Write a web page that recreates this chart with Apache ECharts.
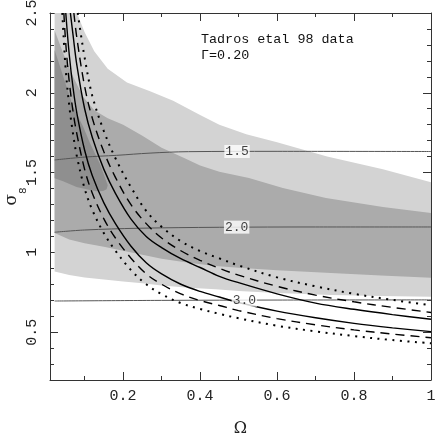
<!DOCTYPE html>
<html><head><meta charset="utf-8">
<script src="https://cdn.jsdelivr.net/npm/echarts@6/dist/echarts.min.js"></script>
<style>html,body{margin:0;padding:0;background:#fff}#c{width:436px;height:436px}</style>
</head><body><div id="c"></div>
<script>
// ---- tick values / labels ----
const xMajorTicks = [0.2, 0.4, 0.6, 0.8, 1];
const xTickLabels = ['0.2', '0.4', '0.6', '0.8', '1'];
const xMinorTicks = [0.1, 0.3, 0.5, 0.7, 0.9];
const yMajorTicks = [0.5, 1, 1.5, 2, 2.5];
const yTickLabels = ['0.5', '1', '1.5', '2', '2.5'];
const yMinorTicks = [0.3, 0.4, 0.6, 0.7, 0.8, 0.9, 1.1, 1.2, 1.3, 1.4, 1.6, 1.7, 1.8, 1.9, 2.1, 2.2, 2.3, 2.4];

// ---- shaded likelihood regions [Omega, sigma8] ----
const lightUpper = [[0.022,2.5],[0.08,2.5],[0.1,2.38],[0.125,2.26],[0.16,2.15],[0.21,2.065],[0.27,2.01],[0.33,1.95],[0.4,1.86],[0.45,1.8],[0.52,1.74],[0.6,1.69],[0.73,1.6],[0.875,1.52],[1.0,1.44]];
const lightLower = [[0.022,0.88],[0.06,0.858],[0.1,0.843],[0.15,0.83],[0.2,0.818],[0.25,0.806],[0.3,0.793],[0.37,0.778],[0.44,0.768],[0.5,0.758],[0.6,0.745],[0.74,0.733],[0.87,0.727],[1.0,0.722]];
const mediumUpper = [[0.022,2.39],[0.044,2.25],[0.07,2.1],[0.096,1.975],[0.125,1.89],[0.16,1.84],[0.2,1.8],[0.25,1.73],[0.3,1.655],[0.36,1.59],[0.4,1.545],[0.45,1.505],[0.527,1.466],[0.615,1.404],[0.727,1.341],[0.875,1.284],[1.0,1.247]];
const mediumLower = [[0.022,1.122],[0.06,1.08],[0.1,1.057],[0.15,1.035],[0.2,1.01],[0.25,0.985],[0.3,0.96],[0.37,0.935],[0.44,0.915],[0.5,0.903],[0.6,0.888],[0.74,0.87],[0.87,0.855],[1.0,0.841]];
const darkBlob = [[0.022,2.268],[0.036,2.164],[0.053,2.038],[0.07,1.913],[0.096,1.788],[0.114,1.684],[0.139,1.558],[0.152,1.474],[0.16,1.42],[0.157,1.395],[0.148,1.385],[0.13,1.383],[0.114,1.39],[0.079,1.41],[0.044,1.445],[0.022,1.465]];

// ---- labelled contours ----
const contour15 = [[0.022,1.579],[0.1,1.597],[0.183,1.608],[0.27,1.622],[0.37,1.631],[0.6,1.633],[1.0,1.632]];
const contour20 = [[0.022,1.126],[0.1,1.14],[0.24,1.151],[0.45,1.157],[0.7,1.159],[1.0,1.159]];
const contour30 = [[0.022,0.695],[0.3,0.699],[0.6,0.701],[1.0,0.702]];
const contourNames = ['1.5', '2.0', '3.0'];
const contourLabelOmega = [0.496, 0.495, 0.515];
const contourLabelSigma = [1.632, 1.158, 0.70];

// ---- cluster-abundance curves ----
const solidLow = [[0.051,2.5],[0.06,2.24],[0.07,2.03],[0.08,1.87],[0.1,1.64],[0.12,1.48],[0.15,1.31],[0.18,1.18],[0.22,1.04],[0.26,0.935],[0.3,0.865],[0.35,0.8],[0.4,0.755],[0.45,0.72],[0.5,0.686],[0.6,0.632],[0.7,0.59],[0.8,0.555],[0.9,0.527],[1.0,0.503]];
const solidHigh = [[0.063,2.5],[0.07,2.36],[0.08,2.17],[0.1,1.9],[0.12,1.72],[0.15,1.52],[0.18,1.37],[0.22,1.21],[0.26,1.1],[0.3,1.03],[0.35,0.96],[0.4,0.905],[0.45,0.85],[0.5,0.81],[0.6,0.74],[0.7,0.682],[0.8,0.643],[0.9,0.61],[1.0,0.581]];
const dashLow = [[0.046,2.5],[0.05,2.34],[0.055,2.19],[0.06,2.07],[0.07,1.88],[0.08,1.74],[0.1,1.52],[0.12,1.37],[0.15,1.21],[0.18,1.09],[0.22,0.965],[0.26,0.865],[0.3,0.8],[0.35,0.74],[0.4,0.698],[0.45,0.667],[0.5,0.635],[0.6,0.585],[0.7,0.546],[0.8,0.514],[0.9,0.488],[1.0,0.465]];
const dashHigh = [[0.072,2.5],[0.08,2.34],[0.1,2.04],[0.12,1.84],[0.15,1.63],[0.18,1.47],[0.22,1.3],[0.26,1.18],[0.3,1.09],[0.35,1.01],[0.4,0.95],[0.45,0.9],[0.5,0.857],[0.6,0.787],[0.7,0.732],[0.8,0.69],[0.9,0.655],[1.0,0.623]];
const dotLow = [[0.042,2.5],[0.05,2.17],[0.06,1.92],[0.07,1.74],[0.08,1.6],[0.1,1.4],[0.12,1.265],[0.15,1.12],[0.18,1.01],[0.22,0.89],[0.26,0.8],[0.3,0.738],[0.35,0.682],[0.4,0.645],[0.45,0.615],[0.5,0.587],[0.6,0.54],[0.7,0.505],[0.8,0.475],[0.9,0.45],[1.0,0.43]];
const dotHigh = [[0.082,2.5],[0.09,2.37],[0.1,2.22],[0.12,1.98],[0.15,1.76],[0.18,1.59],[0.22,1.41],[0.26,1.26],[0.3,1.16],[0.35,1.07],[0.4,1.008],[0.45,0.962],[0.5,0.918],[0.6,0.843],[0.7,0.787],[0.8,0.74],[0.9,0.702],[1.0,0.668]];

const FONT = '"Liberation Mono", "DejaVu Sans Mono", monospace';
const AX = '#333';

function region(points, color, z) {
  return {
    type: 'custom', coordinateSystem: 'cartesian2d', xAxisIndex: 0, yAxisIndex: 0,
    data: [[0.5, 1]], silent: true, z: z, clip: true,
    renderItem: (params, api) => ({
      type: 'polygon',
      shape: { points: points.map(p => api.coord(p)) },
      style: { fill: color }
    })
  };
}
function curve(data, type, width, color, z) {
  return { type: 'line', data: data, smooth: 0.35, symbol: 'none', silent: true, clip: true,
    z: z, lineStyle: { color: color, width: width, type: type } };
}

const lightPoly = lightUpper.concat(lightLower.slice().reverse());
const mediumPoly = mediumUpper.concat(mediumLower.slice().reverse());

function xAx(pos, ticks, len, showLine, labels) {
  return {
    type: 'value', min: 0.01, max: 1, position: pos, gridIndex: 0,
    axisLine: { show: showLine, onZero: false, lineStyle: { color: AX, width: 1 } },
    axisTick: { show: true, inside: true, length: len, customValues: ticks, lineStyle: { color: AX, width: 1 } },
    axisLabel: labels ? { show: true, customValues: xMajorTicks, margin: 9,
      formatter: v => xTickLabels[xMajorTicks.indexOf(v)],
      fontFamily: FONT, fontSize: 15, color: '#222' } : { show: false },
    splitLine: { show: false }
  };
}
function yAx(pos, ticks, len, showLine, labels) {
  return {
    type: 'value', min: 0.2, max: 2.5, position: pos, gridIndex: 0,
    axisLine: { show: showLine, onZero: false, lineStyle: { color: AX, width: 1 } },
    axisTick: { show: true, inside: true, length: len, customValues: ticks, lineStyle: { color: AX, width: 1 } },
    axisLabel: labels ? { show: true, customValues: yMajorTicks, rotate: 90, margin: 10,
      formatter: v => yTickLabels[yMajorTicks.indexOf(v)],
      fontFamily: FONT, fontSize: 15, color: '#222' } : { show: false },
    splitLine: { show: false }
  };
}

const xAxes = [xAx('bottom', xMajorTicks, 8, true, true), xAx('top', xMajorTicks, 8, true, false),
               xAx('bottom', xMinorTicks, 4, false, false), xAx('top', xMinorTicks, 4, false, false)];
xAxes[0].name = 'Ω'; xAxes[0].nameLocation = 'middle'; xAxes[0].nameGap = 41; xAxes[0].nameMoveOverlap = false;
xAxes[0].nameTextStyle = { fontFamily: 'DejaVu Serif', fontSize: 16, color: '#222' };

const yAxes = [yAx('left', yMajorTicks, 8, true, true), yAx('right', yMajorTicks, 8, true, false),
               yAx('left', yMinorTicks, 4, false, false), yAx('right', yMinorTicks, 4, false, false)];
yAxes[0].name = '{s|σ}{b|8}'; yAxes[0].nameLocation = 'middle'; yAxes[0].nameRotate = 90; yAxes[0].nameGap = 21;
yAxes[0].nameMoveOverlap = false;
yAxes[0].nameTextStyle = { color: '#222', rich: {
  s: { fontFamily: 'DejaVu Serif', fontSize: 17, color: '#222', verticalAlign: 'top', lineHeight: 20 },
  b: { fontFamily: FONT, fontSize: 11, color: '#222', verticalAlign: 'bottom', lineHeight: 26 } } };

const labelPoints = contourNames.map((n, i) => ({ value: [contourLabelOmega[i], contourLabelSigma[i]], name: n }));

const option = {
  animation: false,
  grid: { left: 50, right: 5, top: 13, bottom: 56, containLabel: false, outerBoundsMode: 'none' },
  xAxis: xAxes,
  yAxis: yAxes,
  series: [
    region(lightPoly, '#d3d3d3', 1),
    region(mediumPoly, '#ababab', 2),
    region(darkBlob, '#8f8f8f', 3),
    curve(contour15, 'solid', 1, '#555', 4),
    curve(contour20, 'solid', 1, '#555', 4),
    curve(contour30, 'solid', 1, '#555', 4),
    curve(solidLow, 'solid', 1.4, '#000', 5),
    curve(solidHigh, 'solid', 1.4, '#000', 5),
    curve(dashLow, [9, 6], 1.4, '#000', 5),
    curve(dashHigh, [9, 6], 1.4, '#000', 5),
    curve(dotLow, [2, 5.5], 2, '#000', 5),
    curve(dotHigh, [2, 5.5], 2, '#000', 5),
    { type: 'scatter', data: labelPoints, symbolSize: 1, itemStyle: { color: 'rgba(0,0,0,0)' }, z: 10, silent: true,
      label: { show: true, position: 'inside', formatter: p => p.name, fontFamily: FONT, fontSize: 13,
        color: '#111', backgroundColor: '#fff', padding: [0, 1] } }
  ],
  graphic: [
    { type: 'text', left: 201, top: 33, z: 20, style: { text: 'Tadros etal 98 data', font: '13.4px "Liberation Mono"', fill: '#111' } },
    { type: 'text', left: 201, top: 49, z: 20, style: { text: 'Γ=0.20', font: '13.4px "Liberation Mono"', fill: '#111' } }
  ]
};
const chart = echarts.init(document.getElementById('c'), null, { renderer: 'canvas' });
chart.setOption(option);
</script></body></html>
